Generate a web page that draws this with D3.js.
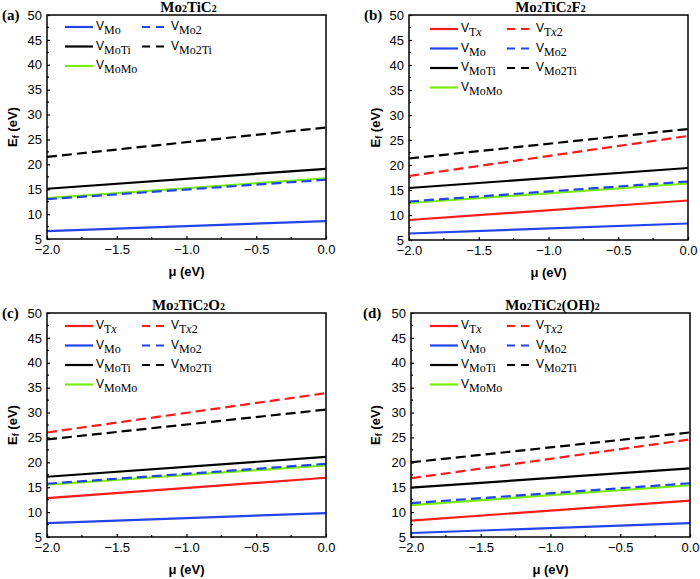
<!DOCTYPE html>
<html><head><meta charset="utf-8">
<script src="https://cdn.jsdelivr.net/npm/d3@7"></script>
<style>
body{margin:0;background:#fff;}
svg{display:block;}
.tick text{font-family:"Liberation Sans",Arial,sans-serif;font-size:13px;fill:#000;}
</style></head>
<body><svg id="c" width="700" height="579"></svg>
<script>
// ---- data ----
const muTicks = [-2.0, -1.5, -1.0, -0.5, 0.0];
const efTicks = [5, 10, 15, 20, 25, 30, 35, 40, 45, 50];
const muEnds = [-2.0, 0.0];
const seriesKeys = ["Tx", "Tx2", "Mo", "Mo2", "MoTi", "Mo2Ti", "MoMo"];
const seriesSub = ["Tx", "Tx2", "Mo", "Mo2", "MoTi", "Mo2Ti", "MoMo"];
const seriesColor = ["#ff1a1a", "#ff1a1a", "#2244ee", "#2244ee", "#000000", "#000000", "#77ee00"];
const seriesDashed = [false, true, false, true, false, true, false];
const panelTitles = ["Mo2TiC2", "Mo2TiC2F2", "Mo2TiC2O2", "Mo2TiC2(OH)2"];
const panelLetters = ["(a)", "(b)", "(c)", "(d)"];
// Ef values at mu = -2.0 and mu = 0.0, in seriesKeys order (null = absent)
const efA_start = [null, null, 6.6, 13.0, 15.1, 21.5, 13.2];
const efA_end   = [null, null, 8.6, 16.9, 19.1, 27.4, 17.2];
const efB_start = [9.0, 17.8, 6.3, 12.7, 15.4, 21.3, 12.4];
const efB_end   = [12.9, 25.8, 8.3, 16.7, 19.4, 27.2, 16.3];
const efC_start = [12.8, 26.0, 7.8, 15.7, 17.1, 24.6, 15.5];
const efC_end   = [16.9, 33.9, 9.8, 19.7, 21.1, 30.6, 19.4];
const efD_start = [8.3, 16.8, 5.8, 11.8, 14.9, 20.0, 11.4];
const efD_end   = [12.3, 24.6, 7.8, 15.8, 18.8, 26.0, 15.4];

const starts = [efA_start, efB_start, efC_start, efD_start];
const ends = [efA_end, efB_end, efC_end, efD_end];

// ---- layout ----
const boxes = [
  {l:47, r:326, t:15, b:239, legX:65, legY:27, ylabX:12, letX:2},
  {l:409, r:688, t:15, b:240, legX:430, legY:29, ylabX:375, letX:364},
  {l:47, r:326, t:313, b:537, legX:65, legY:326, ylabX:12, letX:2},
  {l:411, r:690, t:313, b:537, legX:430, legY:326, ylabX:375, letX:363}
];

const svg = d3.select("#c");
const sans = '"Liberation Sans",Arial,sans-serif';
const serif = '"Liberation Serif","Times New Roman",serif';

function addFormula(textSel, str, bigSize, smallSize) {
  const parts = str.match(/(\d+|[^\d]+)/g);
  parts.forEach(p => {
    const isNum = /^\d+$/.test(p);
    textSel.append("tspan").attr("font-size", isNum ? smallSize : bigSize).text(p);
  });
}

boxes.forEach((bx, pi) => {
  const x = d3.scaleLinear().domain([-2.0, 0.0]).range([bx.l, bx.r]);
  const y = d3.scaleLinear().domain([5, 50]).range([bx.b, bx.t]);
  const g = svg.append("g");

  const order = [6, 2, 0, 1, 4, 5, 3];
  order.forEach(si => {
    const s0 = starts[pi][si], s1 = ends[pi][si];
    if (s0 == null) return;
    const pts = [[muEnds[0], s0], [muEnds[1], s1]];
    g.append("path")
      .attr("d", d3.line().x(d => x(d[0])).y(d => y(d[1]))(pts))
      .attr("fill", "none")
      .attr("stroke", seriesColor[si])
      .attr("stroke-width", 2.2)
      .attr("stroke-dasharray", seriesDashed[si] ? "10,5" : null);
  });

  const xAxis = d3.axisBottom(x).tickValues(muTicks).tickFormat(d3.format(".1f")).tickSize(-3).tickPadding(6);
  const yAxis = d3.axisLeft(y).tickValues(efTicks).tickFormat(d3.format("d")).tickSize(-3).tickPadding(5);
  const gx = g.append("g").attr("transform", `translate(0,${bx.b})`).call(xAxis);
  const gy = g.append("g").attr("transform", `translate(${bx.l},0)`).call(yAxis);
  [gx, gy].forEach(a => { a.select(".domain").remove(); a.selectAll("line").attr("stroke", "#000").attr("stroke-width", 1.2); });
  gx.selectAll(".tick text").attr("dy", "0.71em");
  const minorX = d3.range(-1.75, 0, 0.5);
  g.selectAll(null).data(minorX).enter().append("line")
    .attr("x1", d => x(d)).attr("x2", d => x(d)).attr("y1", bx.b).attr("y2", bx.b - 2)
    .attr("stroke", "#000").attr("stroke-width", 1.2);
  const minorY = d3.range(7.5, 50, 5);
  g.selectAll(null).data(minorY).enter().append("line")
    .attr("x1", bx.l).attr("x2", bx.l + 2).attr("y1", d => y(d)).attr("y2", d => y(d))
    .attr("stroke", "#000").attr("stroke-width", 1.2);

  g.append("rect").attr("x", bx.l).attr("y", bx.t).attr("width", bx.r - bx.l).attr("height", bx.b - bx.t)
    .attr("fill", "none").attr("stroke", "#000").attr("stroke-width", 1.5);

  g.append("text").attr("x", (bx.l + bx.r) / 2).attr("y", bx.b + 37)
    .attr("text-anchor", "middle").attr("font-family", sans).attr("font-weight", "bold").attr("font-size", 13)
    .text("μ (eV)");
  const yl = g.append("text")
    .attr("transform", `translate(${bx.ylabX + 5},${(bx.t + bx.b) / 2}) rotate(-90)`)
    .attr("text-anchor", "middle").attr("font-family", sans).attr("font-weight", "bold").attr("font-size", 13);
  yl.append("tspan").text("E");
  yl.append("tspan").attr("font-size", 9).attr("dy", 2).text("f");
  yl.append("tspan").attr("dy", -2).text(" (eV)");

  const tt = g.append("text").attr("x", (bx.l + bx.r) / 2 + 2).attr("y", bx.t - 3)
    .attr("text-anchor", "middle").attr("font-family", serif).attr("font-weight", "bold");
  addFormula(tt, panelTitles[pi], 15, 10);

  g.append("text").attr("x", bx.letX).attr("y", bx.t + 5)
    .attr("font-family", serif).attr("font-weight", "bold").attr("font-size", 15)
    .text(panelLetters[pi]);

  const rowH = 19.5;
  const rows = [];
  if (starts[pi][0] != null) rows.push([0, 1]);
  rows.push([2, 3]);
  rows.push([4, 5]);
  rows.push([6]);
  rows.forEach((row, ri) => {
    row.forEach((si, ci) => {
      const lx = bx.legX + ci * 77;
      const ly = bx.legY + ri * rowH;
      g.append("line").attr("x1", lx).attr("x2", lx + (ci ? 25 : 28)).attr("y1", ly).attr("y2", ly)
        .attr("stroke", seriesColor[si]).attr("stroke-width", 2.2)
        .attr("stroke-dasharray", seriesDashed[si] ? "8,6" : null);
      const t = g.append("text").attr("x", lx + (ci ? 29 : 31)).attr("y", ly + 3);
      t.append("tspan").attr("font-family", sans).attr("font-size", 12).text("V");
      const sub = seriesSub[si];
      if (sub.startsWith("Tx")) {
        t.append("tspan").attr("font-family", serif).attr("font-size", 12).attr("dy", 4).text("T");
        t.append("tspan").attr("font-family", serif).attr("font-size", 12).attr("font-style", "italic").text("x");
        if (sub.length > 2) t.append("tspan").attr("font-family", serif).attr("font-size", 12).text(sub.slice(2));
      } else {
        t.append("tspan").attr("font-family", serif).attr("font-size", 12).attr("dy", 4).text(sub);
      }
    });
  });
});
</script></body></html>
